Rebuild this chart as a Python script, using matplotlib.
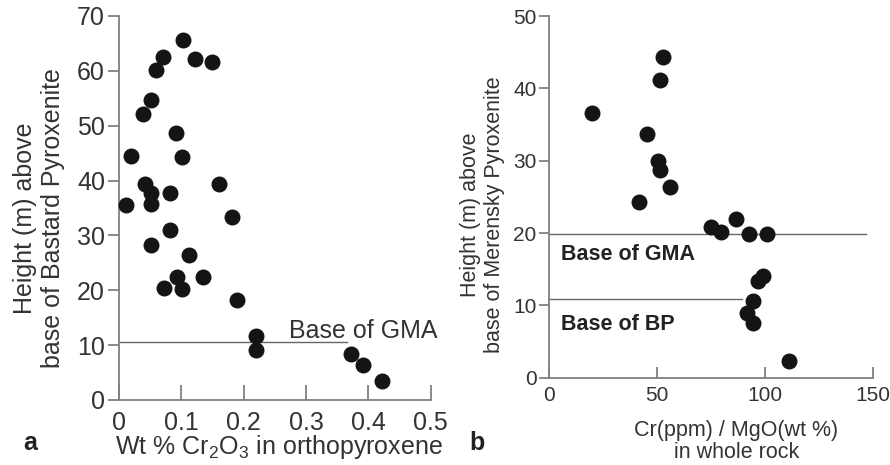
import matplotlib
matplotlib.use("Agg")
import matplotlib.pyplot as plt

# panel a: Cr2O3 in orthopyroxene vs height above Bastard Pyroxenite
cr2o3 = [0.102, 0.070, 0.122, 0.150, 0.059, 0.051, 0.039, 0.091, 0.020, 0.101,
         0.041, 0.160, 0.052, 0.082, 0.051, 0.011, 0.181, 0.082, 0.052, 0.112,
         0.093, 0.134, 0.072, 0.101, 0.190, 0.220, 0.220, 0.372, 0.392, 0.422]
height_a = [65.6, 62.5, 62.2, 61.6, 60.1, 54.6, 52.2, 48.6, 44.5, 44.3,
            39.4, 39.4, 37.7, 37.7, 35.7, 35.5, 33.3, 31.0, 28.2, 26.4,
            22.5, 22.4, 20.5, 20.3, 18.3, 11.7, 9.1, 8.3, 6.3, 3.5]

# panel b: Cr/MgO whole rock vs height above Merensky Pyroxenite
cr_mgo = [52.6, 51.3, 20.0, 45.2, 50.6, 51.3, 56.0, 41.5, 86.3, 74.9,
          79.4, 92.5, 100.7, 99.1, 96.8, 94.5, 91.4, 94.5, 111.2]
height_b = [44.4, 41.2, 36.6, 33.7, 30.0, 28.7, 26.4, 24.3, 22.0, 20.8,
            20.1, 19.8, 19.8, 14.1, 13.4, 10.6, 9.0, 7.6, 2.3]

gma_a = 10.6
gma_b = 19.8
bp_b = 10.9

plt.rcParams['font.family'] = ['Liberation Sans', 'DejaVu Sans']
plt.rcParams['mathtext.fontset'] = 'custom'
plt.rcParams['mathtext.rm'] = 'Liberation Sans'
plt.rcParams['mathtext.it'] = 'Liberation Sans:italic'
txt = '#333333'
spine = '#808080'
dot = '#141414'

fig = plt.figure(figsize=(8.9, 4.65), dpi=100)
ax1 = fig.add_axes([0.1337, 0.1398, 0.3502, 0.8258])
ax2 = fig.add_axes([0.6169, 0.1877, 0.3644, 0.7778])

for ax in (ax1, ax2):
    for s in ('top', 'right'):
        ax.spines[s].set_visible(False)
    for s in ('left', 'bottom'):
        ax.spines[s].set_color(spine)
        ax.spines[s].set_linewidth(1.3)

# panel a
ax1.plot([0, 0.366], [gma_a, gma_a], color='#666666', lw=1.0, zorder=1)
ax1.scatter(cr2o3, height_a, s=110, color=dot, zorder=3, clip_on=False)
ax1.text(0.273, 11.3, 'Base of GMA', fontsize=18, color=txt)
ax1.set_xlim(0, 0.5)
ax1.set_ylim(0, 70)
ax1.set_xticks([0, 0.1, 0.2, 0.3, 0.4, 0.5])
ax1.set_xticklabels(['0', '0.1', '0.2', '0.3', '0.4', '0.5'])
ax1.set_yticks(range(0, 71, 10))
ax1.tick_params(axis='x', direction='in', length=11, width=1.3, color=spine,
                pad=8, labelsize=18, labelcolor=txt)
ax1.tick_params(axis='y', direction='out', length=8, width=1.3, color=spine,
                pad=2, labelsize=18, labelcolor=txt)
ax1.set_xlabel('Wt % Cr$_2$O$_3$ in orthopyroxene', fontsize=18, color=txt,
               va='top')
ax1.xaxis.set_label_coords(0.513, -0.086)
ax1.set_ylabel('Height (m) above\nbase of Bastard Pyroxenite', fontsize=18,
               color=txt, linespacing=1.2)
ax1.yaxis.set_label_coords(-0.173, 0.474)
fig.text(0.034, 0.032, 'a', fontsize=18, fontweight='bold', color='#222222',
         ha='center')

# panel b
ax2.plot([0, 146.6], [gma_b, gma_b], color='#666666', lw=1.0, zorder=1)
ax2.plot([0, 89.1], [bp_b, bp_b], color='#666666', lw=1.0, zorder=1)
ax2.scatter(cr_mgo, height_b, s=110, color=dot, zorder=3, clip_on=False)
ax2.text(5.4, 17.0, 'Base of GMA', fontsize=15.5, color='#222222', va='center',
         fontweight='bold')
ax2.text(5.4, 7.4, 'Base of BP', fontsize=15.5, color='#222222', va='center',
         fontweight='bold')
ax2.set_xlim(0, 150)
ax2.set_ylim(0, 50)
ax2.set_xticks([0, 50, 100, 150])
ax2.set_yticks(range(0, 51, 10))
ax2.tick_params(axis='x', direction='in', length=8, width=1.3, color=spine,
                pad=6, labelsize=15, labelcolor=txt)
ax2.tick_params(axis='y', direction='out', length=7, width=1.3, color=spine,
                pad=2, labelsize=15, labelcolor=txt)
ax2.set_xlabel('Cr(ppm) / MgO(wt %)\nin whole rock', fontsize=15.5, color=txt,
               linespacing=1.05, va='top')
ax2.xaxis.set_label_coords(0.577, -0.118)
ax2.set_ylabel('Height (m) above\nbase of Merensky Pyroxenite', fontsize=15.5,
               color=txt, linespacing=1.2)
ax2.yaxis.set_label_coords(-0.136, 0.45)
fig.text(0.536, 0.032, 'b', fontsize=18, fontweight='bold', color='#222222',
         ha='center')

fig.savefig('out.png', dpi=100)
